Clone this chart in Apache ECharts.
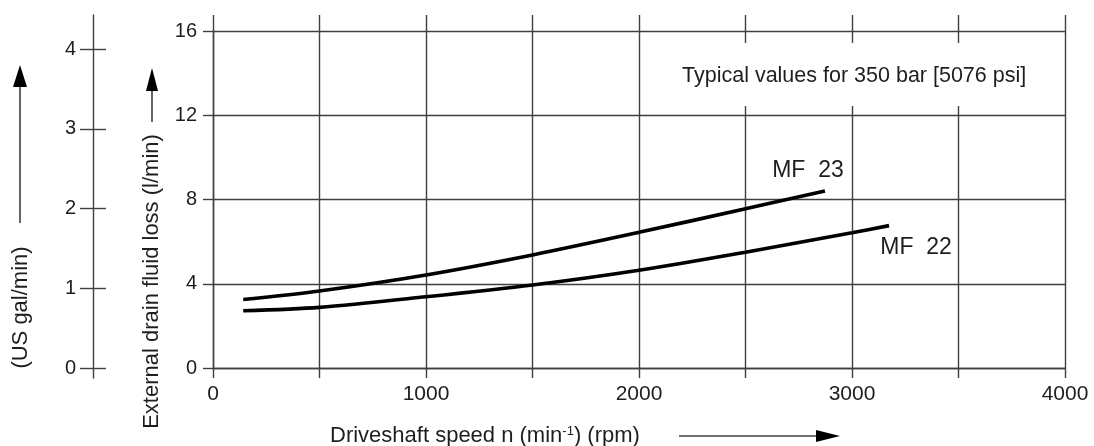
<!DOCTYPE html>
<html>
<head>
<meta charset="utf-8">
<style>
  html, body { margin: 0; padding: 0; background: #ffffff; }
  #chart { width: 1094px; height: 446px; }
</style>
<script src="https://cdn.jsdelivr.net/npm/echarts@6/dist/echarts.min.js"></script>
</head>
<body>
<div id="chart"></div>
<script>
// ---- data ----
const speedMF23 = [142, 500, 1000, 1500, 2000, 2500, 2873];
const lossMF23  = [3.25, 3.66, 4.42, 5.37, 6.44, 7.56, 8.40];
const speedMF22 = [142, 500, 1000, 1500, 2000, 2500, 3000, 3174];
const lossMF22  = [2.72, 2.88, 3.38, 3.94, 4.64, 5.50, 6.42, 6.76];
const xTickLabels = [0, 1000, 2000, 3000, 4000];
const yTickValues = [0, 4, 8, 12, 16];
const galTickValues = [0, 1, 2, 3, 4];
const seriesNames = ['MF 23', 'MF 22'];
const annotation = 'Typical values for 350 bar [5076 psi]';
const L_PER_GAL = 3.785;

// ---- layout ----
const GRID = { left: 213, right: 29, top: 31, bottom: 78 };
const EXT_TOP = 16, EXT_BOTTOM = 10;
const pxPerL = (446 - GRID.top - GRID.bottom) / 16;
const galMin = -(EXT_BOTTOM / pxPerL) / L_PER_GAL;
const galMax = (16 + EXT_TOP / pxPerL) / L_PER_GAL;

const LINE = '#3f3f3f';
const TXT = '#1e1e1e';
const FONT = 'Liberation Sans, Arial, sans-serif';
const plain = v => String(v);

function pairs(xs, ys) { return xs.map((x, i) => [x, ys[i]]); }

const chart = echarts.init(document.getElementById('chart'), null, { renderer: 'canvas' });

chart.setOption({
  animation: false,
  backgroundColor: '#ffffff',
  grid: [
    { left: GRID.left, right: GRID.right, top: GRID.top, bottom: GRID.bottom, containLabel: false },
    { left: 93, width: 1, top: GRID.top - EXT_TOP, bottom: GRID.bottom - EXT_BOTTOM, containLabel: false }
  ],
  xAxis: [
    {
      type: 'value', gridIndex: 0, position: 'bottom', min: 0, max: 4000, interval: 500,
      axisLine: { show: true, lineStyle: { color: LINE, width: 1.4 } },
      axisTick: { show: true, inside: false, length: EXT_BOTTOM, lineStyle: { color: LINE, width: 1.4 } },
      axisLabel: { customValues: xTickLabels, formatter: plain, margin: 16, fontSize: 21, color: TXT, fontFamily: FONT },
      splitLine: { show: true, lineStyle: { color: LINE, width: 1.4 } }
    },
    {
      type: 'value', gridIndex: 0, position: 'top', min: 0, max: 4000, interval: 500,
      axisLine: { show: false },
      axisTick: { show: true, inside: false, length: EXT_TOP, lineStyle: { color: LINE, width: 1.4 } },
      axisLabel: { show: false },
      splitLine: { show: false }
    },
    { type: 'value', gridIndex: 1, show: false, min: 0, max: 1 }
  ],
  yAxis: [
    {
      type: 'value', gridIndex: 0, min: 0, max: 16, interval: 4,
      axisLine: { show: true, lineStyle: { color: LINE, width: 1.4 } },
      axisTick: { show: true, inside: false, length: 10, lineStyle: { color: LINE, width: 1.4 } },
      axisLabel: { customValues: yTickValues, formatter: plain, margin: 16, fontSize: 20, color: TXT, fontFamily: FONT },
      splitLine: { show: true, lineStyle: { color: LINE, width: 1.4 } }
    },
    {
      type: 'value', gridIndex: 1, position: 'left', min: galMin, max: galMax,
      axisLine: { show: true, onZero: false, lineStyle: { color: LINE, width: 1.4 } },
      axisTick: { show: true, inside: false, length: 13, customValues: galTickValues, lineStyle: { color: LINE, width: 1.4 } },
      axisLabel: { customValues: galTickValues, formatter: plain, margin: 17, fontSize: 20, color: TXT, fontFamily: FONT },
      splitLine: { show: false }
    },
    {
      type: 'value', gridIndex: 1, position: 'left', min: galMin, max: galMax,
      axisLine: { show: false },
      axisTick: { show: true, inside: true, length: 13, customValues: galTickValues, lineStyle: { color: LINE, width: 1.4 } },
      axisLabel: { show: false },
      splitLine: { show: false }
    }
  ],
  series: [
    {
      name: seriesNames[0], type: 'line', xAxisIndex: 0, yAxisIndex: 0,
      data: pairs(speedMF23, lossMF23), smooth: 0.3, symbol: 'none',
      lineStyle: { color: '#000', width: 3.6 },
      endLabel: { show: true, formatter: seriesNames[0].replace(' ', '  '), distance: 0,
        align: 'center', verticalAlign: 'middle', offset: [-17, -20],
        fontSize: 23, color: TXT, fontFamily: FONT }
    },
    {
      name: seriesNames[1], type: 'line', xAxisIndex: 0, yAxisIndex: 0,
      data: pairs(speedMF22, lossMF22), smooth: 0.3, symbol: 'none',
      lineStyle: { color: '#000', width: 3.6 },
      endLabel: { show: true, formatter: seriesNames[1].replace(' ', '  '), distance: 0,
        align: 'center', verticalAlign: 'middle', offset: [27, 22],
        fontSize: 23, color: TXT, fontFamily: FONT }
    }
  ],
  graphic: [
    { type: 'rect', z: 10, shape: { x: 662, y: 43, width: 378, height: 63 }, style: { fill: '#ffffff' } },
    { type: 'text', z: 11, x: 682, y: 76, style: { text: annotation, fontSize: 21.5, fill: TXT, fontFamily: FONT, align: 'left', verticalAlign: 'middle' } },
    // x axis title + arrow
    { type: 'text', x: 330, y: 436, style: { text: 'Driveshaft speed n (min{sup|-1}) (rpm)', fontSize: 22, fill: TXT, fontFamily: FONT,
        verticalAlign: 'middle', align: 'left',
        rich: { sup: { fontSize: 13, verticalAlign: 'top', padding: [0, 0, 10, 0], fontFamily: FONT, fill: TXT } } } },
    { type: 'line', shape: { x1: 679, y1: 436, x2: 818, y2: 436 }, style: { stroke: LINE, lineWidth: 1.6 } },
    { type: 'polygon', shape: { points: [[816, 430], [840, 436], [816, 442]] }, style: { fill: '#000' } },
    // main y title + arrow
    { type: 'text', x: 152, y: 281.5, rotation: Math.PI / 2,
      style: { text: 'External drain fluid loss (l/min)', fontSize: 22, fill: TXT, fontFamily: FONT, align: 'center', verticalAlign: 'middle' } },
    { type: 'line', shape: { x1: 152, y1: 122, x2: 152, y2: 89 }, style: { stroke: LINE, lineWidth: 1.6 } },
    { type: 'polygon', shape: { points: [[146, 91], [152, 68], [158, 91]] }, style: { fill: '#000' } },
    // gal title + arrow
    { type: 'text', x: 21, y: 307.5, rotation: Math.PI / 2,
      style: { text: '(US gal/min)', fontSize: 22, fill: TXT, fontFamily: FONT, align: 'center', verticalAlign: 'middle' } },
    { type: 'line', shape: { x1: 20, y1: 223, x2: 20, y2: 85 }, style: { stroke: LINE, lineWidth: 1.6 } },
    { type: 'polygon', shape: { points: [[13, 87], [20, 65], [27, 87]] }, style: { fill: '#000' } }
  ]
});
</script>
</body>
</html>
